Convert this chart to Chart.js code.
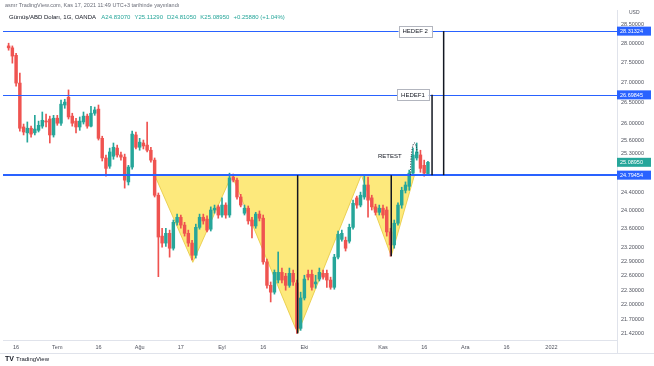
<!DOCTYPE html>
<html lang="tr">
<head>
<meta charset="utf-8">
<title>Gümüş/ABD Doları, 1G, OANDA</title>
<script src="https://cdn.jsdelivr.net/npm/chart.js@4.4.1/dist/chart.umd.min.js"></script>
<style>
  html, body { margin: 0; padding: 0; background: #fff; }
  #wrap { position: relative; width: 654px; height: 366px; overflow: hidden; font-family: "Liberation Sans", Arial, sans-serif; }
  #chart { position: absolute; left: 0; top: 0; }
  .hdr1 { position: absolute; left: 5px; top: 2px; font-size: 5.5px; color: #6a6d78; white-space: nowrap; }
  .hdr2 { position: absolute; left: 9px; top: 14px; font-size: 6px; color: #131722; white-space: nowrap; }
  .hdr2 .v { color: #26a69a; margin-left: 4px; }
  .logo { position: absolute; left: 5px; top: 355px; font-size: 6px; color: #131722; white-space: nowrap; }
  .logo b { font-size: 7px; margin-right: 2px; }
</style>
</head>
<body>
<div id="wrap">
  <canvas id="chart" width="654" height="366"></canvas>
  <div class="hdr1">asmr TradingView.com, Kas 17, 2021 11:49 UTC+3 tarihinde yayınlandı</div>
  <div class="hdr2">Gümüş/ABD Doları, 1G, OANDA <span class="v">A24.83070</span><span class="v">Y25.11290</span><span class="v">D24.81050</span><span class="v">K25.08950</span><span class="v">+0.25880 (+1.04%)</span></div>
  <div class="logo"><b>TV</b>TradingView</div>
</div>
<script>
// daily candles, 14 Jun 2021 -> 17 Nov 2021
const firstDay = '2021-06-11';   // one empty slot before the first candle
const lastDay = '2022-01-26';    // empty space on the right
const firstCandle = '2021-06-14';

const opens = [
  27.93, 27.88, 27.69, 26.99, 25.92, 25.78, 25.89, 25.78, 25.84, 25.94,
  26.06, 26.11, 25.73, 26.13, 26.01, 26.45, 26.64, 26.18, 26.06, 25.92,
  26.04, 26.18, 25.94, 26.25, 26.35, 25.65, 25.19, 25.00, 25.23, 25.42,
  25.26, 25.21, 24.64, 24.98, 25.73, 25.44, 25.54, 25.49, 25.37, 25.14,
  24.34, 23.44, 23.29, 23.50, 23.18, 23.74, 23.85, 23.68, 23.50, 23.29,
  23.03, 23.63, 23.85, 23.81, 23.59, 24.01, 24.08, 23.90, 24.12, 23.90,
  24.75, 24.68, 24.30, 23.94, 24.05, 23.79, 23.66, 23.92, 23.83, 22.89,
  22.40, 22.26, 22.51, 22.67, 22.59, 22.40, 22.65, 22.45, 21.53, 22.14,
  22.63, 22.63, 22.43, 22.53, 22.65, 22.65, 22.51, 22.36, 22.99, 23.37,
  23.35, 23.33, 23.63, 24.28, 24.12, 24.30, 24.57, 24.28, 24.08, 23.96,
  24.05, 24.01, 23.53, 23.25, 23.72, 24.12, 24.45, 24.54, 24.84, 25.19,
  25.26, 25.02, 24.8307
];
const highs = [
  28.00, 27.93, 27.74, 27.24, 25.99, 26.04, 25.94, 26.20, 26.06, 26.28,
  26.23, 26.18, 26.20, 26.20, 26.57, 26.59, 26.82, 26.25, 26.13, 26.16,
  26.28, 26.23, 26.42, 26.40, 26.45, 25.70, 25.26, 25.42, 25.54, 25.49,
  25.33, 25.28, 25.02, 25.82, 25.80, 25.65, 25.61, 26.04, 25.44, 25.19,
  24.39, 23.61, 23.61, 23.57, 23.79, 23.92, 23.90, 23.74, 23.57, 23.35,
  23.70, 23.92, 23.92, 23.88, 24.08, 24.12, 24.12, 24.28, 24.17, 24.84,
  24.82, 24.73, 24.36, 24.12, 24.10, 23.85, 23.96, 23.99, 23.90, 22.95,
  22.47, 22.72, 23.10, 22.76, 22.65, 22.76, 22.72, 22.51, 22.26, 22.61,
  22.72, 22.72, 22.61, 22.76, 22.72, 22.72, 22.57, 23.05, 23.55, 23.57,
  23.42, 23.70, 24.23, 24.32, 24.41, 24.80, 24.75, 24.34, 24.14, 24.12,
  24.12, 24.08, 23.61, 23.79, 24.17, 24.52, 24.64, 24.91, 25.42, 25.54,
  25.37, 25.14, 25.1129
];
const lows = [
  27.82, 27.49, 26.91, 25.82, 25.73, 25.56, 25.68, 25.73, 25.80, 25.89,
  25.92, 25.54, 25.68, 25.96, 25.96, 26.37, 26.11, 25.94, 25.78, 25.84,
  25.99, 25.89, 25.92, 26.20, 25.61, 25.12, 24.77, 24.95, 25.16, 25.21,
  25.14, 24.50, 24.57, 24.93, 25.40, 25.37, 25.40, 25.33, 25.09, 24.30,
  22.58, 23.20, 23.22, 22.99, 23.14, 23.68, 23.61, 23.44, 23.22, 22.93,
  22.97, 23.59, 23.70, 23.53, 23.55, 23.94, 23.83, 23.85, 23.83, 23.85,
  24.64, 24.25, 24.08, 23.90, 23.70, 23.40, 23.61, 23.77, 22.84, 22.34,
  22.06, 22.22, 22.45, 22.45, 22.30, 22.36, 22.40, 21.43, 21.49, 22.10,
  22.51, 22.30, 22.34, 22.49, 22.53, 22.36, 22.32, 22.32, 22.95, 23.33,
  23.12, 23.29, 23.59, 24.05, 24.08, 24.25, 23.85, 24.01, 23.90, 23.90,
  23.83, 23.44, 23.01, 23.18, 23.68, 24.05, 24.39, 24.45, 24.79, 25.14,
  24.86, 24.77, 24.8105
];
const closes = [
  27.88, 27.67, 26.99, 25.89, 25.80, 25.89, 25.75, 25.87, 25.96, 26.08,
  26.04, 25.73, 26.13, 26.01, 26.47, 26.52, 26.16, 26.01, 25.92, 26.06,
  26.18, 25.94, 26.25, 26.33, 25.65, 25.19, 24.95, 25.33, 25.44, 25.26,
  25.21, 24.68, 24.98, 25.75, 25.44, 25.56, 25.47, 25.37, 25.14, 24.34,
  23.42, 23.29, 23.50, 23.18, 23.74, 23.85, 23.68, 23.50, 23.29, 23.03,
  23.63, 23.85, 23.77, 23.57, 24.01, 24.05, 23.90, 24.12, 23.90, 24.73,
  24.68, 24.30, 24.12, 24.05, 23.77, 23.66, 23.92, 23.83, 22.89, 22.40,
  22.26, 22.67, 22.67, 22.51, 22.40, 22.65, 22.47, 21.53, 22.14, 22.53,
  22.57, 22.36, 22.47, 22.67, 22.57, 22.51, 22.36, 22.99, 23.48, 23.50,
  23.18, 23.63, 24.16, 24.12, 24.34, 24.57, 24.23, 24.08, 23.96, 24.05,
  23.90, 23.53, 23.25, 23.72, 24.12, 24.45, 24.57, 24.84, 25.26, 25.33,
  24.95, 24.84, 25.0895
];

const yTicks = [28.5, 28.0, 27.5, 27.0, 26.5, 26.0, 25.6, 25.3, 24.4, 24.0, 23.6, 23.2, 22.9, 22.6, 22.3, 22.0, 21.7, 21.42];
const xTickDates = ['2021-06-16', '2021-07-01', '2021-07-16', '2021-08-02', '2021-08-17', '2021-09-01', '2021-09-16',
  '2021-10-01', '2021-11-01', '2021-11-16', '2021-12-01', '2021-12-16', '2022-01-03'];
const xTickTexts = ['16', 'Tem', '16', 'Ağu', '17', 'Eyl', '16', 'Eki', 'Kas', '16', 'Ara', '16', '2022'];

// drawings on the chart (candle index, price)
const neckline = 24.79454;
const target1 = 26.69845;
const target2 = 28.31324;
const lastPrice = 25.0895;
const shoulderL = [[39.0, neckline], [49.2, 22.88], [59.6, neckline]];
const head = [[59.6, neckline], [77.2, 21.43], [94.2, neckline]];
const shoulderR = [[94.2, neckline], [102.2, 23.01], [108.4, neckline]];
const measures = [[77.2, 21.43, neckline], [102.2, 23.01, neckline], [113.1, target1, neckline], [116.2, target2, neckline]];

const UP = '#26a69a', DOWN = '#ef5350', BLUE = '#2962ff';
const FONT = '"Liberation Sans", Arial, sans-serif';

// weekday categories
const categories = [];
for (let d = new Date(firstDay + 'T00:00:00Z'); d <= new Date(lastDay + 'T00:00:00Z'); d.setUTCDate(d.getUTCDate() + 1)) {
  const wd = d.getUTCDay();
  if (wd > 0 && wd < 6) categories.push(d.toISOString().slice(0, 10));
}
const LEAD = categories.indexOf(firstCandle);
const tickText = {};
xTickDates.forEach((d, k) => { tickText[d] = xTickTexts[k]; });

const place = arr => categories.map((_, k) => (k >= LEAD && k - LEAD < arr.length) ? arr[k - LEAD] : null);
const wickData = place(highs.map((h, i) => [lows[i], h]));
const bodyData = place(opens.map((o, i) => [o, closes[i]]));
const candleColors = place(opens.map((o, i) => closes[i] >= o ? UP : DOWN));

function priceLabel(ctx, area, y, value, color) {
  ctx.fillStyle = color;
  ctx.fillRect(area.right, y - 4.5, 34, 9);
  ctx.fillStyle = '#fff';
  ctx.font = '5.5px ' + FONT;
  ctx.textAlign = 'left';
  ctx.textBaseline = 'middle';
  ctx.fillText(value.toFixed(5), area.right + 3, y + 0.5);
}

function textBox(ctx, cx, cy, text) {
  ctx.font = '6px ' + FONT;
  const w = ctx.measureText(text).width + 8;
  ctx.fillStyle = '#fff';
  ctx.fillRect(cx - w / 2, cy - 5.5, w, 11);
  ctx.strokeStyle = '#b2b5be';
  ctx.lineWidth = 1;
  ctx.strokeRect(Math.round(cx - w / 2) + 0.5, Math.round(cy - 5.5) + 0.5, Math.round(w), 11);
  ctx.fillStyle = '#131722';
  ctx.textAlign = 'center';
  ctx.textBaseline = 'middle';
  ctx.fillText(text, cx, cy + 0.5);
}

const drawings = {
  id: 'drawings',
  beforeDatasetsDraw(chart) {
    const { ctx, chartArea: a, scales: { x, y } } = chart;
    const px = i => x.getPixelForValue(i + LEAD);
    ctx.save();
    ctx.beginPath();
    ctx.rect(a.left, a.top, a.right - a.left, a.bottom - a.top);
    ctx.clip();
    [shoulderL, head, shoulderR].forEach(tri => {
      ctx.beginPath();
      tri.forEach(([i, p], k) => {
        if (k) ctx.lineTo(px(i), y.getPixelForValue(p));
        else ctx.moveTo(px(i), y.getPixelForValue(p));
      });
      ctx.closePath();
      ctx.fillStyle = '#fde97c';
      ctx.fill();
      ctx.strokeStyle = '#e6c83c';
      ctx.lineWidth = 0.8;
      ctx.stroke();
    });
    ctx.restore();
  },
  afterDatasetsDraw(chart) {
    const { ctx, chartArea: a, scales: { x, y } } = chart;
    const px = i => x.getPixelForValue(i + LEAD);
    ctx.save();
    // target / neckline levels
    [[target2, 1], [target1, 1], [neckline, 2]].forEach(([p, w]) => {
      const yy = Math.round(y.getPixelForValue(p)) + (w === 1 ? 0.5 : 0);
      ctx.beginPath();
      ctx.moveTo(a.left, yy);
      ctx.lineTo(a.right, yy);
      ctx.strokeStyle = BLUE;
      ctx.lineWidth = w;
      ctx.stroke();
    });
    // measuring lines
    measures.forEach(([i, p1, p2]) => {
      ctx.beginPath();
      ctx.moveTo(px(i), y.getPixelForValue(p1));
      ctx.lineTo(px(i), y.getPixelForValue(p2));
      ctx.strokeStyle = '#131722';
      ctx.lineWidth = 1.5;
      ctx.stroke();
    });
    // dotted retest arch
    ctx.beginPath();
    ctx.setLineDash([1, 1.5]);
    ctx.ellipse(px(108.4), y.getPixelForValue(neckline), 4, y.getPixelForValue(neckline) - y.getPixelForValue(25.54), 0, Math.PI, Math.PI * 1.75);
    ctx.strokeStyle = '#131722';
    ctx.lineWidth = 1;
    ctx.stroke();
    ctx.setLineDash([]);
    // texts
    textBox(ctx, px(108.6), y.getPixelForValue(target2), 'HEDEF 2');
    textBox(ctx, px(108.0), y.getPixelForValue(target1), 'HEDEF1');
    ctx.font = '6px ' + FONT;
    ctx.fillStyle = '#131722';
    ctx.textAlign = 'center';
    ctx.textBaseline = 'middle';
    ctx.fillText('RETEST', px(101.8), y.getPixelForValue(25.23));
    ctx.restore();
  },
  afterDraw(chart) {
    const { ctx, chartArea: a, scales: { y } } = chart;
    ctx.save();
    ctx.strokeStyle = '#e0e3eb';
    ctx.lineWidth = 1;
    ctx.beginPath();
    ctx.moveTo(a.right + 0.5, a.bottom);
    ctx.lineTo(a.right + 0.5, 353);
    ctx.moveTo(0, 353.5);
    ctx.lineTo(654, 353.5);
    ctx.stroke();
    ctx.fillStyle = '#fff';
    ctx.fillRect(a.right + 1, a.top - 8, 36, 10);
    ctx.fillStyle = '#50535e';
    ctx.font = '5px ' + FONT;
    ctx.textAlign = 'left';
    ctx.textBaseline = 'middle';
    ctx.fillText('USD', a.right + 12, a.top + 3);
    priceLabel(ctx, a, y.getPixelForValue(target2), target2, BLUE);
    priceLabel(ctx, a, y.getPixelForValue(target1), target1, BLUE);
    priceLabel(ctx, a, y.getPixelForValue(lastPrice), lastPrice, UP);
    priceLabel(ctx, a, y.getPixelForValue(neckline), neckline, BLUE);
    ctx.restore();
  }
};

new Chart(document.getElementById('chart'), {
  type: 'bar',
  data: {
    labels: categories,
    datasets: [
      {
        label: 'wick',
        data: wickData,
        backgroundColor: candleColors,
        barThickness: 1,
        grouped: false,
        borderWidth: 0,
        order: 2
      },
      {
        label: 'body',
        data: bodyData,
        backgroundColor: candleColors,
        barThickness: 2.8,
        grouped: false,
        borderWidth: 0,
        minBarLength: 1,
        order: 1
      }
    ]
  },
  options: {
    responsive: false,
    animation: false,
    layout: { padding: { top: 10, left: 3, right: 0, bottom: 0 } },
    plugins: { legend: { display: false }, tooltip: { enabled: false } },
    scales: {
      x: {
        type: 'category',
        offset: true,
        grid: { display: false, drawTicks: false },
        border: { color: '#e0e3eb' },
        ticks: {
          autoSkip: false,
          maxRotation: 0,
          padding: 4,
          color: '#50535e',
          font: { size: 5.5, family: FONT },
          callback: v => tickText[categories[v]] || ''
        },
        afterFit: s => { s.height = 26; }
      },
      y: {
        type: 'logarithmic',
        position: 'right',
        min: 21.30,
        max: 28.87,
        afterBuildTicks: s => { s.ticks = yTicks.map(v => ({ value: v })); },
        grid: { drawOnChartArea: false, drawTicks: false },
        border: { color: '#e0e3eb' },
        ticks: {
          autoSkip: false,
          padding: 4,
          color: '#50535e',
          font: { size: 5.5, family: FONT },
          callback: v => Number(v).toFixed(5)
        },
        afterFit: s => { s.width = 37; }
      }
    }
  },
  plugins: [drawings]
});
</script>
</body>
</html>
